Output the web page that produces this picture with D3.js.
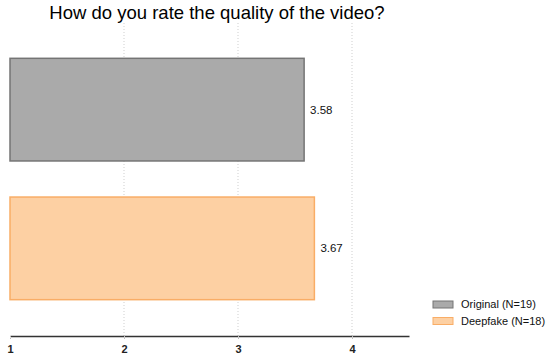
<!DOCTYPE html>
<html>
<head>
<meta charset="utf-8">
<script src="https://cdn.jsdelivr.net/npm/d3@7"></script>
<style>
  body { margin: 0; background: #fff; }
  svg { display: block; font-family: "Liberation Sans", Arial, sans-serif; }
</style>
</head>
<body>
<div id="chart"></div>
<script>
// data
const groups = ["Original (N=19)", "Deepfake (N=18)"];
const means = [3.58, 3.67];
const tickValues = [1, 2, 3, 4];
const title = "How do you rate the quality of the video?";
const fills = ["#aaaaaa", "#fdd0a3"];
const strokes = ["#747474", "#f9ad66"];

const width = 546, height = 359;
const margin = {top: 50, right: 137, bottom: 23, left: 10};

const svg = d3.select("#chart")
  .append("svg")
  .attr("width", width)
  .attr("height", height);

const x = d3.scaleLinear()
  .domain([1, 4.5])
  .range([margin.left, 409]);

const y = d3.scaleBand()
  .domain(groups)
  .range([50, 308])
  .paddingInner(0.26)
  .paddingOuter(0.06);

const axisY = 336;

// dotted gridlines
svg.append("g")
  .selectAll("line")
  .data(tickValues.slice(1))
  .join("line")
  .attr("x1", d => x(d)).attr("x2", d => x(d))
  .attr("y1", 23).attr("y2", axisY)
  .attr("stroke", "#cfcfcf")
  .attr("stroke-width", 1)
  .attr("stroke-dasharray", "1,2");

// bars
svg.append("g")
  .selectAll("rect")
  .data(means)
  .join("rect")
  .attr("x", x(1))
  .attr("y", (d, i) => y(groups[i]))
  .attr("width", d => x(d) - x(1))
  .attr("height", y.bandwidth())
  .attr("fill", (d, i) => fills[i])
  .attr("stroke", (d, i) => strokes[i])
  .attr("stroke-width", 1.5);

// value labels
svg.append("g")
  .selectAll("text")
  .data(means)
  .join("text")
  .attr("x", d => x(d) + 6)
  .attr("y", (d, i) => y(groups[i]) + y.bandwidth() / 2)
  .attr("dy", "0.35em")
  .attr("font-size", 11.5)
  .attr("fill", "#111")
  .text(d => d.toFixed(2));

// x axis
const xAxis = svg.append("g")
  .attr("transform", `translate(0,${axisY})`)
  .call(d3.axisBottom(x).tickValues(tickValues).tickSize(4).tickSizeOuter(0).tickFormat(d3.format("d")));
xAxis.select(".domain").attr("stroke", "#333").attr("stroke-width", 1.5);
xAxis.selectAll(".tick line").attr("stroke", "#bbb").attr("stroke-dasharray", "1,1");
xAxis.selectAll(".tick text")
  .attr("font-size", 11)
  .attr("font-weight", "bold")
  .attr("fill", "#222")
  .attr("font-family", "\"Liberation Sans\", Arial, sans-serif")
  .attr("dy", "0.9em");

// title
svg.append("text")
  .attr("x", 217)
  .attr("y", 19)
  .attr("text-anchor", "middle")
  .attr("font-size", 18.5)
  .attr("fill", "#000")
  .text(title);

// legend
const legend = svg.append("g")
  .selectAll("g")
  .data(groups)
  .join("g")
  .attr("transform", (d, i) => `translate(433,${301 + i * 16.5})`);
legend.append("rect")
  .attr("width", 20).attr("height", 7)
  .attr("fill", (d, i) => fills[i])
  .attr("stroke", (d, i) => strokes[i])
  .attr("stroke-width", 1);
legend.append("text")
  .attr("x", 28).attr("y", 3.5)
  .attr("dy", "0.35em")
  .attr("font-size", 11)
  .attr("fill", "#111")
  .text(d => d);
</script>
</body>
</html>
